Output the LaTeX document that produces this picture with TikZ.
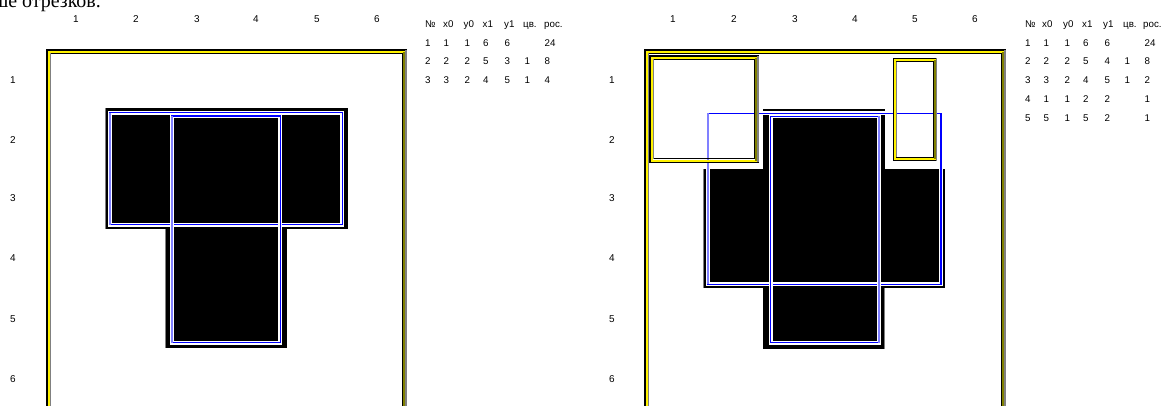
\documentclass[tikz,border=0pt]{standalone}
\usepackage{fontspec}
\setmainfont{Liberation Sans}
\newfontfamily\headserif{Liberation Serif}
\definecolor{lav}{HTML}{8080FF}
\definecolor{olv}{HTML}{808000}
\definecolor{frgray}{HTML}{808080}
\tikzset{
  lbl/.style={font=\fontsize{10}{11}\selectfont, inner sep=0pt, anchor=base},
  tbl/.style={font=\fontsize{9.8}{11}\selectfont, inner sep=0pt, anchor=base west},
  blk/.style={fill=black, draw=none},
  halo/.style={draw=white, line width=4bp},
  bline/.style={draw=blue, line width=1.5bp},
  lavline/.style={draw=lav, line width=2.6bp},
}
% double blue line box with a lavender side
\newcommand\bluebox[5]{%
  \draw[halo] (#1,#2) rectangle (#3,#4);
  \draw[bline] (#1,#2) rectangle (#3,#4);
  \draw[lavline] (#5,#2) -- (#5,#4);
}
% yellow framed box (black / yellow / black)
\newcommand\yframe[4]{%
  \draw[black, line width=1.2bp] (#1,#2) rectangle (#3,#4);
  \draw[yellow, line width=1.8bp] (#1+1.7,#2+1.7) rectangle (#3-1.7,#4-1.7);
  \draw[black, line width=1.1bp] (#1+3.4,#2+3.4) rectangle (#3-3.4,#4-3.4);
  \draw[frgray, line width=1.1bp] (#1+3.4,#2+3.4) -- (#1+3.4,#4-3.4);
  \draw[frgray, line width=1.2bp] (#3,#2) -- (#3,#4);
  \draw[olv, line width=1.8bp] (#3-1.7,#2+1.7) -- (#3-1.7,#4-1.7);
}
\begin{document}
\begin{tikzpicture}[x=1bp,y=-1bp]
\useasboundingbox (0,0) rectangle (1162,405);
\clip (0,0) rectangle (1162,405);

% cut-off heading text at the very top
\node[font=\headserif\fontsize{20}{22}\selectfont, inner sep=0pt, anchor=base east] (head) at (101,7) {меньше отрезков.};

% ---------------- left panel ----------------
\foreach \c/\x in {1/76,2/136,3/197,4/256,5/317,6/377}
  \node[lbl] (lc\c) at (\x,22.5) {\c};
\foreach \r/\y in {1/79.5,2/139.5,3/198,4/257.5,5/319,6/379}
  \node[lbl] (lr\r) at (13,\y+3.5) {\r};

\yframe{47}{50}{406}{420}

\fill[blk] (105,108) rectangle (348,229);
\fill[blk] (165,108) rectangle (287,348);
\draw[frgray, line width=1bp] (105.5,108) -- (105.5,229);
\draw[frgray, line width=1bp] (165.5,229) -- (165.5,348);

\bluebox{110}{112.7}{342.3}{224.7}{110}
\bluebox{172}{116}{280.3}{342.7}{172}

% left table
\foreach \t/\x in {№/425,x0/443,y0/463.5,x1/482.5,y1/504,цв./523,рос./544}
  \node[tbl] at (\x,27.5) {\t};
\foreach \a/\b/\cc/\d/\e/\f/\g [count=\i] in {1/1/1/6/6//24, 2/2/2/5/3/1/8, 3/3/2/4/5/1/4}{
  \pgfmathsetmacro\yy{27.5+18.7*\i}
  \node[tbl] at (425,\yy) {\a};
  \node[tbl] at (443.5,\yy) {\b};
  \node[tbl] at (464.5,\yy) {\cc};
  \node[tbl] at (483,\yy) {\d};
  \node[tbl] at (504.5,\yy) {\e};
  \node[tbl] at (524.5,\yy) {\f};
  \node[tbl] at (544.5,\yy) {\g};
}

% ---------------- right panel ----------------
\foreach \c/\x in {1/673,2/734,3/795,4/855,5/915,6/975}
  \node[lbl] (rc\c) at (\x,22.5) {\c};
\foreach \r/\y in {1/79.5,2/139.5,3/198,4/257.5,5/319,6/379}
  \node[lbl] (rr\r) at (612,\y+3.5) {\r};

\yframe{645}{50}{1005}{420}

\fill[blk] (703,169) rectangle (945,288);
\fill[blk] (763,109) rectangle (885,111.8);
\fill[blk] (763,114.8) rectangle (885,349);
\draw[frgray, line width=1bp] (703.5,169) -- (703.5,288);
\draw[frgray, line width=1bp] (884.5,288) -- (884.5,349);

\bluebox{708}{113.3}{941}{284.3}{708}
\bluebox{770.5}{116.3}{879}{342.5}{879}

\yframe{650}{56}{758}{162.3}
\yframe{893.3}{58.3}{936.7}{160.7}

% right table
\foreach \t/\x in {№/1025,x0/1042,y0/1063,x1/1082,y1/1103,цв./1123,рос./1143}
  \node[tbl] at (\x,27.5) {\t};
\foreach \a/\b/\cc/\d/\e/\f/\g [count=\i] in {1/1/1/6/6//24, 2/2/2/5/4/1/8, 3/3/2/4/5/1/2, 4/1/1/2/2//1, 5/5/1/5/2//1}{
  \pgfmathsetmacro\yy{27.5+18.7*\i}
  \node[tbl] at (1025,\yy) {\a};
  \node[tbl] at (1043.5,\yy) {\b};
  \node[tbl] at (1064.5,\yy) {\cc};
  \node[tbl] at (1083,\yy) {\d};
  \node[tbl] at (1104.5,\yy) {\e};
  \node[tbl] at (1124.5,\yy) {\f};
  \node[tbl] at (1144.5,\yy) {\g};
}
\end{tikzpicture}
\end{document}
